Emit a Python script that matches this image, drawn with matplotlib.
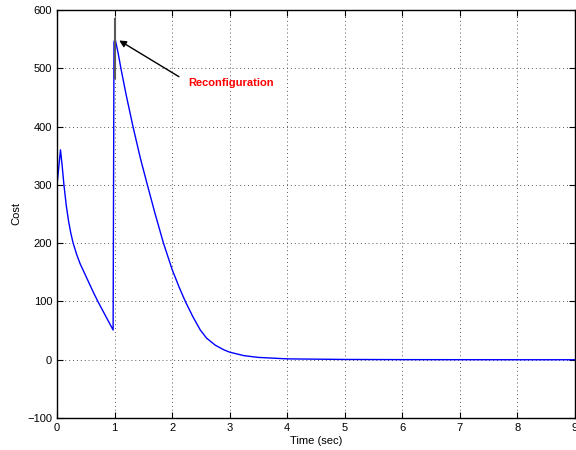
import numpy as np
import matplotlib
matplotlib.use('Agg')
import matplotlib.pyplot as plt

plt.rcParams['font.family'] = ['Liberation Sans', 'DejaVu Sans']

# cost trace
time_s = [0.0, 0.06, 0.09, 0.12, 0.16, 0.2, 0.24, 0.28, 0.34, 0.4, 0.48,
          0.55, 0.63, 0.71, 0.78, 0.85, 0.91, 0.975,
          0.99, 1.01, 1.06, 1.11, 1.2, 1.32, 1.45, 1.57, 1.7, 1.85, 2.0,
          2.12, 2.23, 2.36, 2.49, 2.6, 2.75, 2.9, 3.0, 3.25, 3.5, 4.0,
          5.0, 6.0, 7.0, 8.0, 9.0]
cost = [300, 360, 332, 300, 265, 238, 217, 200, 181, 165, 148,
        133, 116, 100, 87, 74, 63, 51,
        545, 550, 527, 500, 455, 400, 345, 300, 252, 200, 155,
        125, 100, 74, 51, 37, 25, 17, 13, 7, 4, 1.5,
        0.5, 0.2, 0.1, 0.0, 0.0]

# gray marker at the reconfiguration instant
marker_t = [1.0, 1.0]
marker_c = [483, 585]

fig = plt.figure(figsize=(5.76, 4.5), dpi=100)
ax = fig.add_axes([0.099, 0.071, 0.899, 0.907])

ax.plot(time_s, cost, color='#0000ff', linewidth=1.0)
ax.plot(marker_t, marker_c, color='0.35', linewidth=1.5)

ax.set_xlim(0, 9)
ax.set_ylim(-100, 600)
ax.set_xticks(range(0, 10))
ax.set_yticks(range(-100, 601, 100))

ax.grid(True, linestyle=(0, (1, 3)), color='0.35', linewidth=0.7)
ax.tick_params(direction='in', top=True, right=True, length=4, labelsize=8)
for s in ax.spines.values():
    s.set_linewidth(1.0)

ax.set_xlabel('Time (sec)', fontsize=8, labelpad=2)
ax.set_ylabel('Cost', fontsize=8)

ax.annotate('', xy=(1.04, 550), xytext=(2.16, 483),
            arrowprops=dict(arrowstyle='-|>', color='black', lw=1.0,
                            mutation_scale=10))
ax.text(2.28, 475, 'Reconfiguration', color='red', fontsize=8,
        fontweight='bold', va='center', ha='left')

fig.savefig('out.png', dpi=100)
